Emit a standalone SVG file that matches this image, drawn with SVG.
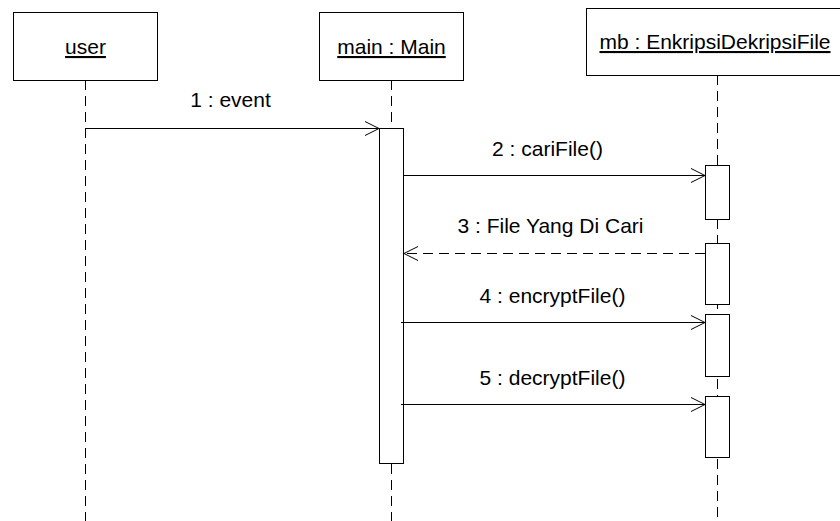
<svg xmlns="http://www.w3.org/2000/svg" width="840" height="521" viewBox="0 0 840 521">
<style>
.box{fill:#fff;stroke:#000;stroke-width:1}
.life{stroke:#000;stroke-width:1;stroke-dasharray:10,6;fill:none}
.act{fill:#fff;stroke:#000;stroke-width:1}
.msg{stroke:#000;stroke-width:1;fill:none}
.ret{stroke:#000;stroke-width:1;fill:none;stroke-dasharray:10,6}
.head{stroke:#000;stroke-width:1;fill:none}
text{font-family:"Liberation Sans",Arial,sans-serif;font-size:21px;fill:#000}
.u{text-decoration:underline}
</style>
<rect width="840" height="521" fill="#fff"/>
<g id="lifelines">
<line class="life" x1="85.5" y1="80" x2="85.5" y2="521"/>
<line class="life" x1="391.5" y1="80" x2="391.5" y2="521"/>
<line class="life" x1="717.5" y1="75" x2="717.5" y2="521"/>
</g>
<g id="user">
<rect class="box" x="13.5" y="12.5" width="144" height="68"/>
<text class="u" x="85.5" y="54" text-anchor="middle">user</text>
</g>
<g id="main">
<rect class="box" x="319.5" y="12.5" width="144" height="68"/>
<text class="u" x="391.5" y="54" text-anchor="middle">main : Main</text>
<rect class="act" x="379.5" y="128.5" width="24" height="335"/>
</g>
<g id="mb">
<rect class="box" x="586.5" y="8.5" width="260" height="67"/>
<text class="u" x="715" y="49" text-anchor="middle">mb : EnkripsiDekripsiFile</text>
<rect class="act" x="705.5" y="165.5" width="24" height="54"/>
<rect class="act" x="705.5" y="243.5" width="24" height="61"/>
<rect class="act" x="705.5" y="314.5" width="24" height="62"/>
<rect class="act" x="705.5" y="396.5" width="24" height="61"/>
</g>
<g id="connectors">
<line class="msg" x1="85.5" y1="128.5" x2="379" y2="128.5"/>
<polyline class="head" points="365,121.5 379,128.5 365,135.5"/>
<text x="230.5" y="107" text-anchor="middle">1 : event</text>
<line class="msg" x1="403.5" y1="175.5" x2="705" y2="175.5"/>
<polyline class="head" points="691,168.5 705,175.5 691,182.5"/>
<text x="547.5" y="156" text-anchor="middle">2 : cariFile()</text>
<line class="ret" x1="705" y1="253.5" x2="404" y2="253.5"/>
<polyline class="head" points="418,246.5 404,253.5 418,260.5"/>
<text x="550.5" y="233" text-anchor="middle">3 : File Yang Di Cari</text>
<line class="msg" x1="401" y1="322.5" x2="705" y2="322.5"/>
<polyline class="head" points="691,315.5 705,322.5 691,329.5"/>
<text x="552.5" y="303" text-anchor="middle">4 : encryptFile()</text>
<line class="msg" x1="401" y1="404.5" x2="705" y2="404.5"/>
<polyline class="head" points="691,397.5 705,404.5 691,411.5"/>
<text x="552.5" y="385" text-anchor="middle">5 : decryptFile()</text>
</g>
</svg>
